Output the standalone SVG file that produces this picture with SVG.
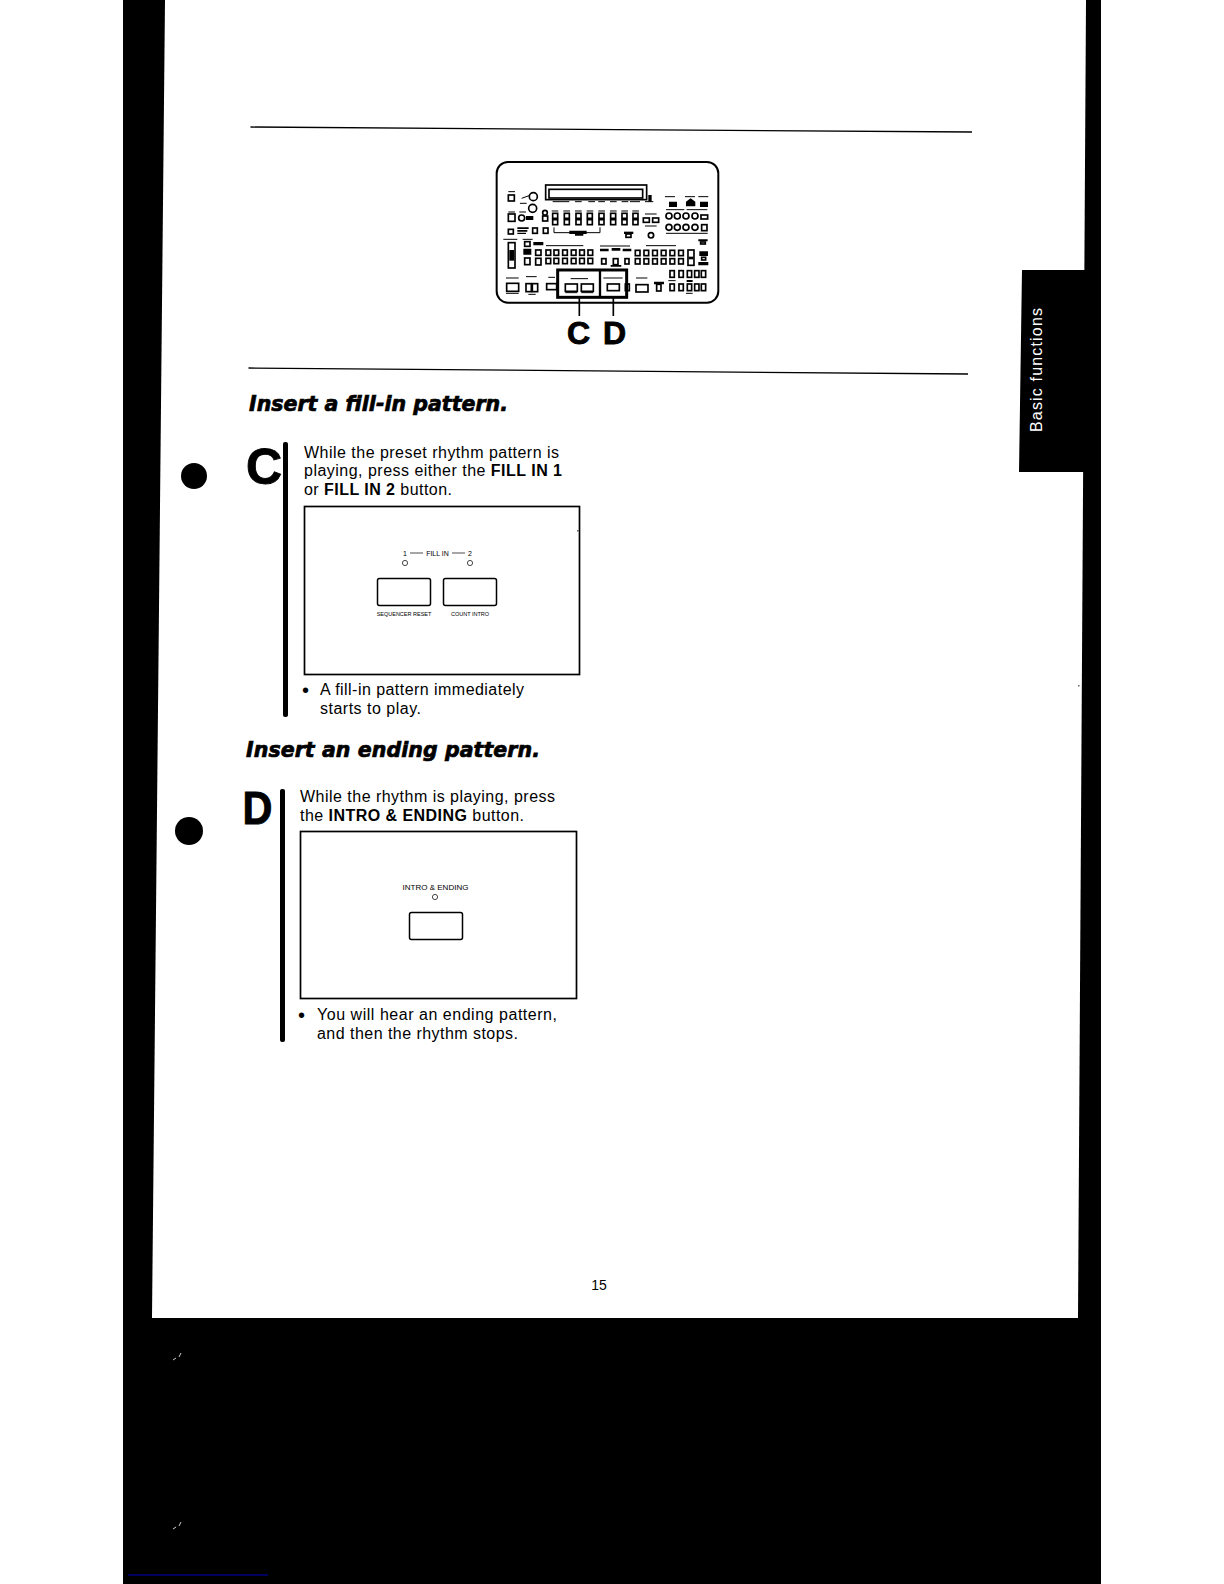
<svg xmlns="http://www.w3.org/2000/svg" width="1224" height="1584" viewBox="0 0 1224 1584">
<style>
.b{font-family:"Liberation Sans",Arial,sans-serif;font-size:16px;fill:#000}
.dot{font-family:"Liberation Sans",Arial,sans-serif;font-size:20px;fill:#000}
.h{font-family:"DejaVu Sans",sans-serif;font-weight:700;font-style:italic;font-size:20.500px;fill:#000;stroke:#000;stroke-width:.7}
.t{font-family:"Liberation Sans",Arial,sans-serif;fill:#000;text-anchor:middle}
.big{font-family:"Liberation Sans",Arial,sans-serif;font-weight:700;fill:#000;stroke:#000;stroke-width:.9}
.l{fill:none;stroke:#000}
.btn{fill:#fff;stroke:#000;stroke-width:1.5}
.led{fill:#fff;stroke:#333;stroke-width:.9}
.d{fill:#fff;stroke:#000;stroke-width:5}
.k{fill:#000;stroke:none}
.m{stroke:#000;stroke-width:3;fill:none}
</style>
<rect width="1224" height="1584" fill="#fff"/>
<rect x="123" y="0" width="978" height="1584" fill="#000"/>
<polygon points="165,0 1086,0 1078,1318 152,1318" fill="#fff"/>
<polygon points="1022,270 1086,270 1086,472 1019,472" fill="#000"/>
<text transform="translate(1041.5,432) rotate(-90)" font-family="Liberation Sans,Arial,sans-serif" font-size="16" fill="#fff" textLength="124">Basic functions</text>
<line x1="128" y1="1575" x2="268" y2="1575" stroke="#00007f" stroke-width="1.500"/>
<path d="M173 1360l3-2M179 1357l2-4" stroke="#ccc" stroke-width="1"/>
<path d="M173 1529l3-2M179 1526l2-4" stroke="#ccc" stroke-width="1"/>
<rect x="577" y="530" width="1.500" height="1.500" fill="#666"/>
<rect x="1078" y="685" width="1.500" height="1.500" fill="#666"/>
<line class="l" x1="250.500" y1="127" x2="972" y2="132" stroke-width="1.300"/>
<line class="l" x1="248.500" y1="368" x2="968" y2="374" stroke-width="1.300"/>

<g id="panel" transform="translate(480 150) scale(.3333)">
<rect x="50" y="36" width="665" height="422" rx="34" class="l" stroke-width="6"/>
<rect x="197" y="105" width="303" height="44" class="d"/>
<rect x="207" y="118" width="281" height="26" class="d"/>
<path class="m" d="M218 155h50M285 155h20M325 155h20M355 155h20M390 155h20M425 155h20M450 155h30M495 155h25"/>
<path class="k" d="M505 135h10v20h-10z"/>
<rect x="85" y="135" width="18" height="18" class="d"/>
<circle cx="160" cy="140" r="12" class="d"/><circle cx="158" cy="175" r="12" class="d"/>
<path class="m" d="M120 160h20M125 145l22-8M85 125h20"/>
<path class="k" d="M567 155h24v16h-24zM660 155h24v16h-24zM618 155l14-10 14 10v14h-28z"/>
<path class="m" d="M555 140h30M615 140h30M655 140h30"/>
<g id="row1">
<path class="m" d="M85 186h20M118 186h20M215 183h20M250 183h20M285 183h20M320 183h20M355 183h20M390 183h20M424 183h20M457 183h20"/>
<rect x="85" y="192" width="20" height="22" class="d"/><circle cx="125" cy="204" r="9" class="d"/>
<path class="k" d="M138 198h22v12h-22z"/>
<circle cx="195" cy="188" r="7" class="d"/><rect x="188" y="198" width="15" height="15" class="d"/>
<rect x="218" y="190" width="15" height="15" class="d"/><rect x="218" y="209" width="15" height="15" class="d"/>
<rect x="253" y="190" width="15" height="15" class="d"/><rect x="253" y="209" width="15" height="15" class="d"/>
<rect x="288" y="190" width="15" height="15" class="d"/><rect x="288" y="209" width="15" height="15" class="d"/>
<rect x="322" y="190" width="15" height="15" class="d"/><rect x="322" y="209" width="15" height="15" class="d"/>
<rect x="357" y="190" width="15" height="15" class="d"/><rect x="357" y="209" width="15" height="15" class="d"/>
<rect x="392" y="190" width="15" height="15" class="d"/><rect x="392" y="209" width="15" height="15" class="d"/>
<rect x="426" y="190" width="15" height="15" class="d"/><rect x="426" y="209" width="15" height="15" class="d"/>
<rect x="459" y="190" width="15" height="15" class="d"/><rect x="459" y="209" width="15" height="15" class="d"/>
<path class="m" d="M222 232v16h138v-16"/><path class="k" d="M268 242h52v10h-52zM285 252h25v5h-25z"/>
<rect x="490" y="204" width="18" height="13" class="d"/><rect x="518" y="204" width="18" height="13" class="d"/>
<path class="m" d="M495 192h35M495 228h35"/>
<circle cx="513" cy="256" r="8" class="d"/>
<path class="k" d="M432 245h28v7h-28z"/><rect x="438" y="252" width="15" height="10" class="d"/>
</g>
<g id="right">
<circle cx="567" cy="198" r="9" class="d"/><circle cx="592" cy="198" r="9" class="d"/><circle cx="618" cy="198" r="9" class="d"/><circle cx="645" cy="198" r="9" class="d"/><rect x="663" y="195" width="20" height="12" class="d"/>
<circle cx="567" cy="232" r="9" class="d"/><circle cx="592" cy="232" r="9" class="d"/><circle cx="618" cy="232" r="9" class="d"/><circle cx="645" cy="232" r="9" class="d"/><rect x="665" y="224" width="16" height="18" class="d"/>
<path class="m" d="M558 179h55M620 179h62M558 250h125"/>
</g>
<g id="row2">
<rect x="85" y="238" width="15" height="14" class="d"/>
<path class="k" d="M112 232h34v5h-34zM112 240h30v5h-30zM112 248h26v4h-26z"/>
<rect x="158" y="234" width="14" height="16" class="d"/><rect x="190" y="234" width="14" height="16" class="d"/>
<rect x="85" y="278" width="20" height="76" class="d"/><path class="k" d="M88 300h14v32h-14z"/>
<rect x="134" y="275" width="16" height="14" class="d"/><rect x="134" y="324" width="16" height="20" class="d"/><rect x="167" y="300" width="16" height="16" class="d"/><rect x="167" y="325" width="16" height="20" class="d"/>
<path class="k" d="M160 276h30v10h-30zM130 296h24v18h-24z"/>
<path class="m" d="M198 287h112M70 268h42M128 268h30"/>
</g>
<g id="row3">
<rect x="198" y="300" width="14" height="16" class="d"/><rect x="222" y="300" width="14" height="16" class="d"/><rect x="248" y="300" width="14" height="16" class="d"/><rect x="274" y="300" width="14" height="16" class="d"/><rect x="299" y="300" width="14" height="16" class="d"/><rect x="324" y="300" width="14" height="16" class="d"/>
<rect x="198" y="325" width="14" height="16" class="d"/><rect x="222" y="325" width="14" height="16" class="d"/><rect x="248" y="325" width="14" height="16" class="d"/><rect x="274" y="325" width="14" height="16" class="d"/><rect x="299" y="325" width="14" height="16" class="d"/><rect x="324" y="325" width="14" height="16" class="d"/>
<path class="k" d="M360 296h26v8h-26zM395 294h26v8h-26zM428 296h26v8h-26zM392 345h32v5h-32z"/>
<rect x="365" y="326" width="13" height="16" class="d"/><rect x="400" y="326" width="14" height="18" class="d"/><rect x="435" y="326" width="12" height="16" class="d"/>
<rect x="466" y="301" width="14" height="16" class="d"/><rect x="492" y="301" width="14" height="16" class="d"/><rect x="518" y="301" width="14" height="16" class="d"/><rect x="544" y="301" width="14" height="16" class="d"/><rect x="570" y="301" width="14" height="16" class="d"/><rect x="596" y="301" width="14" height="16" class="d"/>
<rect x="466" y="326" width="14" height="16" class="d"/><rect x="492" y="326" width="14" height="16" class="d"/><rect x="518" y="326" width="14" height="16" class="d"/><rect x="544" y="326" width="14" height="16" class="d"/><rect x="570" y="326" width="14" height="16" class="d"/><rect x="596" y="326" width="14" height="16" class="d"/>
<rect x="624" y="300" width="18" height="46" class="d"/><path class="k" d="M626 320h14v8h-14z"/>
<path class="k" d="M655 268h28v6h-28zM658 304h26v14h-26zM655 336h30v10h-30z"/>
<rect x="662" y="276" width="14" height="6" class="d"/><rect x="665" y="322" width="12" height="8" class="d"/>
<path class="m" d="M498 287h90M360 288h90"/>
</g>
<g id="row4">
<rect x="570" y="362" width="13" height="20" class="d"/><rect x="597" y="362" width="13" height="20" class="d"/><rect x="622" y="362" width="13" height="20" class="d"/><rect x="644" y="362" width="13" height="20" class="d"/><rect x="664" y="362" width="13" height="20" class="d"/>
<rect x="570" y="402" width="13" height="20" class="d"/><rect x="597" y="402" width="13" height="20" class="d"/><rect x="622" y="402" width="13" height="20" class="d"/><rect x="644" y="402" width="13" height="20" class="d"/><rect x="664" y="402" width="13" height="20" class="d"/>
<rect x="80" y="400" width="36" height="24" class="d"/><rect x="138" y="401" width="16" height="24" class="d"/><rect x="157" y="401" width="16" height="24" class="d"/>
<rect x="200" y="401" width="30" height="18" class="d"/>
<rect x="468" y="404" width="36" height="22" class="d"/><rect x="436" y="402" width="12" height="20" class="d"/>
<path class="k" d="M522 395h30v8h-30zM620 390h18v6h-18z"/><rect x="530" y="403" width="13" height="20" class="d"/>
<path class="m" d="M78 384h38M78 430h38M138 380h32M145 433h22M468 384h34M205 382h20M565 392h22M618 430h20"/>
</g>
<rect x="233" y="360" width="207" height="82" class="l" stroke-width="9"/>
<line x1="360" y1="360" x2="360" y2="442" stroke="#000" stroke-width="7"/>
<rect x="256" y="402" width="36" height="22" class="d"/><rect x="304" y="402" width="36" height="22" class="d"/><rect x="382" y="402" width="36" height="20" class="d"/>
<path class="m" d="M272 386h52M370 384h58M256 428h36M304 428h36"/>
<line x1="298" y1="442" x2="298" y2="498" stroke="#000" stroke-width="5"/>
<line x1="400" y1="442" x2="400" y2="498" stroke="#000" stroke-width="5"/>
</g>
<text class="big" x="567" y="344" font-size="32">C</text>
<text class="big" x="603" y="344" font-size="32">D</text>

<text class="h" x="249" y="410.500" textLength="259">Insert a fill-in pattern.</text>
<circle cx="194" cy="476" r="13"/>
<text class="big" x="246" y="484" font-size="50">C</text>
<rect x="283" y="442" width="5" height="275" rx="2"/>
<text class="b" x="304" y="457.500" textLength="255">While the preset rhythm pattern is</text>
<text class="b" x="304" y="476" textLength="258">playing, press either the <tspan font-weight="700">FILL IN 1</tspan></text>
<text class="b" x="304" y="495" textLength="148">or <tspan font-weight="700">FILL IN 2</tspan> button.</text>
<g id="fillin-box">
<rect x="304.500" y="506.500" width="275" height="168" class="l" stroke-width="1.700"/>
<text class="t" x="405" y="555.500" font-size="7">1</text>
<line x1="410" y1="553" x2="423" y2="553" stroke="#000" stroke-width=".7"/>
<text class="t" x="437.500" y="555.500" font-size="7">FILL IN</text>
<line x1="452" y1="553" x2="465" y2="553" stroke="#000" stroke-width=".7"/>
<text class="t" x="470" y="555.500" font-size="7">2</text>
<circle cx="405" cy="563" r="2.600" class="led"/>
<circle cx="470" cy="563" r="2.600" class="led"/>
<rect x="377.500" y="578.500" width="53" height="27" rx="2" class="btn"/>
<rect x="443.500" y="578.500" width="53" height="27" rx="2" class="btn"/>
<text class="t" x="404" y="616" font-size="5.500">SEQUENCER RESET</text>
<text class="t" x="470" y="616" font-size="5.500">COUNT INTRO</text>
</g>
<text class="dot" x="302" y="696.500">•</text>
<text class="b" x="320" y="695" textLength="204">A fill-in pattern immediately</text>
<text class="b" x="320" y="714" textLength="101">starts to play.</text>

<text class="h" x="246" y="756.500" textLength="294">Insert an ending pattern.</text>
<circle cx="189" cy="831" r="14"/>
<text class="big" transform="translate(242.500 824) scale(.9 1)" font-size="46">D</text>
<rect x="280" y="789" width="5" height="253" rx="2"/>
<text class="b" x="300" y="802" textLength="255">While the rhythm is playing, press</text>
<text class="b" x="300" y="821" textLength="224">the <tspan font-weight="700">INTRO &amp; ENDING</tspan> button.</text>
<g id="intro-box">
<rect x="300.500" y="831.500" width="276" height="167" class="l" stroke-width="1.700"/>
<text class="t" x="435.500" y="889.500" font-size="8">INTRO &amp; ENDING</text>
<circle cx="435" cy="897" r="2.600" class="led"/>
<rect x="409.500" y="912.500" width="53" height="27" rx="2" class="btn"/>
</g>
<text class="dot" x="298" y="1021.500">•</text>
<text class="b" x="317" y="1020" textLength="240">You will hear an ending pattern,</text>
<text class="b" x="317" y="1039" textLength="201">and then the rhythm stops.</text>
<text class="t" x="599" y="1290" font-size="14">15</text>
</svg>
